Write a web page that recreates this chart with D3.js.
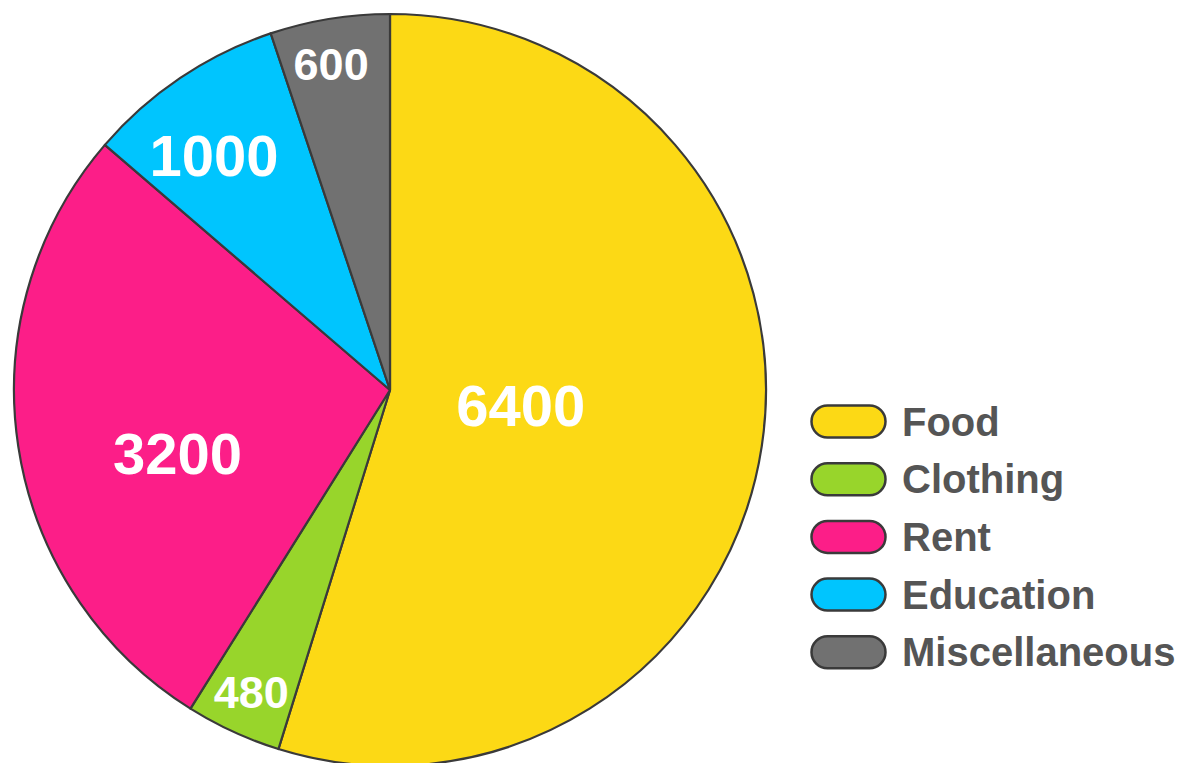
<!DOCTYPE html>
<html>
<head>
<meta charset="utf-8">
<script src="https://cdn.jsdelivr.net/npm/d3@7"></script>
<style>
  html, body { margin: 0; padding: 0; background: #ffffff; }
  svg { display: block; }
</style>
</head>
<body>
<svg id="chart" width="1185" height="763"></svg>
<script>
// Monthly expenses by category
const categories = ["Food", "Clothing", "Rent", "Education", "Miscellaneous"];
const amounts = [6400, 480, 3200, 1000, 600];
const colors = ["#fcd915", "#98d52b", "#fc1e88", "#00c5fe", "#717171"];

// Where each value label sits inside its slice (fraction of radius, angle nudge in degrees)
const labelRadiusFactor = [0.35, 0.885, 0.59, 0.78, 0.88];
const labelAngleNudge = [-2, 0, -8, -3, -1];
const labelFontSize = [58, 45, 58, 58, 45];

const svg = d3.select("#chart");
const cx = 390, cy = 390, radius = 376;

const data = categories.map((c, i) => ({ category: c, value: amounts[i], color: colors[i], idx: i }));

const pie = d3.pie().value(d => d.value).sort(null);
const arcs = pie(data);
const arc = d3.arc().innerRadius(0).outerRadius(radius);

const g = svg.append("g").attr("transform", `translate(${cx},${cy})`);

g.selectAll("path.slice")
  .data(arcs)
  .join("path")
  .attr("class", "slice")
  .attr("d", arc)
  .attr("fill", d => d.data.color)
  .attr("stroke", "#3a3a3a")
  .attr("stroke-width", 2.2)
  .attr("stroke-linejoin", "round");

g.selectAll("text.value")
  .data(arcs)
  .join("text")
  .attr("class", "value")
  .attr("transform", d => {
    const i = d.data.idx;
    const a = (d.startAngle + d.endAngle) / 2 + labelAngleNudge[i] * Math.PI / 180;
    const r = radius * labelRadiusFactor[i];
    return `translate(${r * Math.sin(a)},${-r * Math.cos(a)})`;
  })
  .attr("text-anchor", "middle")
  .attr("dominant-baseline", "central")
  .attr("fill", "#ffffff")
  .attr("font-family", "'Liberation Sans', Arial, Helvetica, sans-serif")
  .attr("font-weight", "bold")
  .attr("font-size", d => labelFontSize[d.data.idx])
  .text(d => d.data.value);

// Legend
const legend = svg.append("g").attr("transform", "translate(810,404)");
const rowStep = 57.7;

const rows = legend.selectAll("g.row")
  .data(data)
  .join("g")
  .attr("class", "row")
  .attr("transform", (d, i) => `translate(0,${i * rowStep})`);

rows.append("rect")
  .attr("x", 1.5).attr("y", 1.5)
  .attr("width", 74).attr("height", 32)
  .attr("rx", 16).attr("ry", 16)
  .attr("fill", d => d.color)
  .attr("stroke", "#3a3a3a")
  .attr("stroke-width", 2.5);

rows.append("text")
  .attr("x", 92)
  .attr("y", 17.5)
  .attr("dominant-baseline", "central")
  .attr("fill", "#555555")
  .attr("font-family", "'Liberation Sans', Arial, Helvetica, sans-serif")
  .attr("font-weight", "bold")
  .attr("font-size", 40)
  .text(d => d.category);
</script>
</body>
</html>
